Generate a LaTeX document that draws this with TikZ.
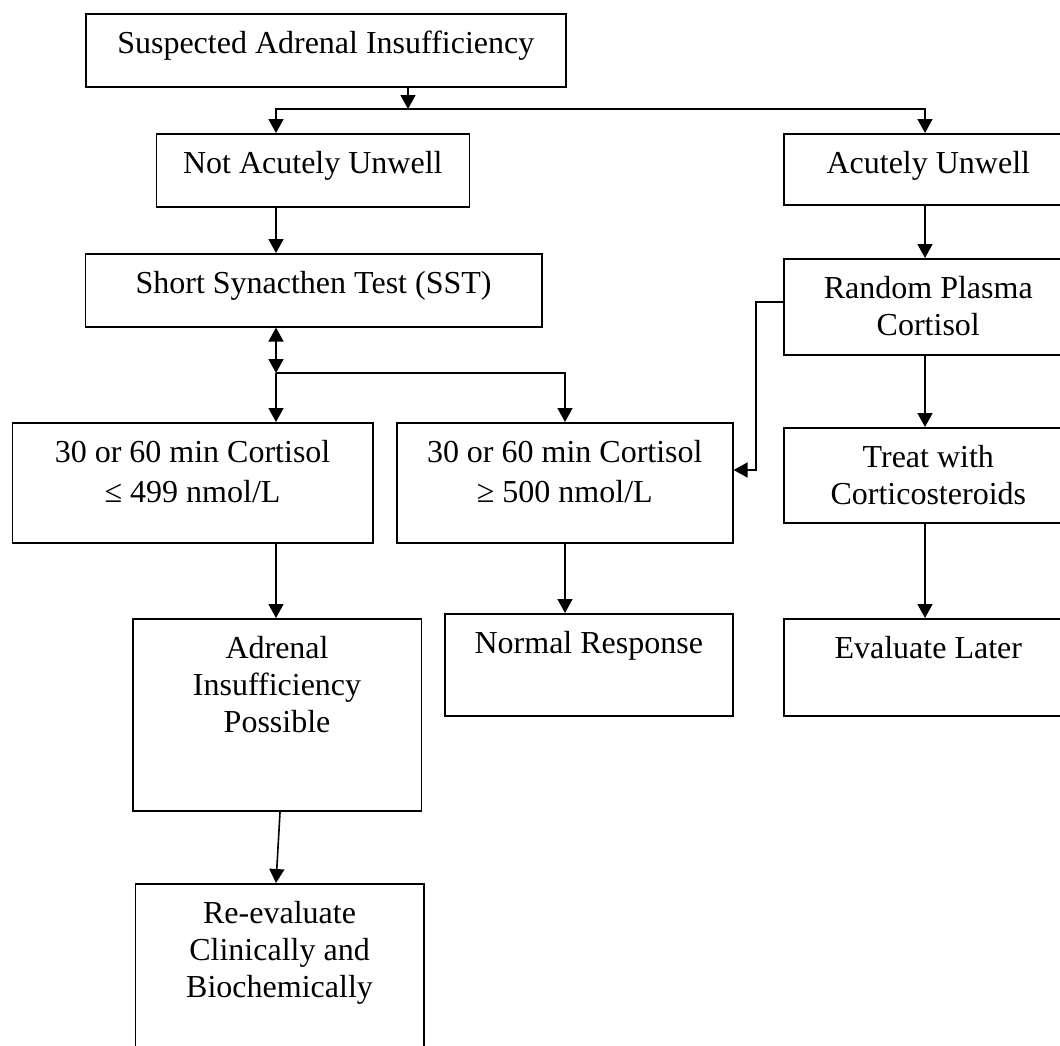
\documentclass[tikz,border=0pt]{standalone}
\usepackage{fontspec}
\setmainfont{Liberation Serif}
\usetikzlibrary{arrows.meta}
\newcommand{\flowtext}[3]{\parbox[t][#2][t]{#1}{\centering\rule{0pt}{40pt}#3}}

\begin{document}
\begin{tikzpicture}[x=1pt, y=-1pt, >={Triangle[length=14pt,width=15pt]}, font=\fontsize{32}{37}\selectfont]
	\def\colL{276} \def\colM{565} \def\colR{925}
	\tikzset{box/.style={draw, line width=1.6pt, inner sep=0pt, anchor=north west},
		arr/.style={->, line width=1.6pt}}
	\useasboundingbox (0,0) rectangle (1060,1045);
	\coordinate (cL) at (\colL,0);
	\coordinate (cM) at (\colM,0);
	\coordinate (cR) at (\colR,0);
	\node[box] (susp) at (85,13) {\flowtext{480pt}{73pt}{Suspected Adrenal Insufficiency}};
	\node[box] (notacute) at (155.5,133) {\flowtext{313pt}{73pt}{Not Acutely Unwell}};
	\node[box] (acute) at (783,133) {\flowtext{289pt}{71pt}{Acutely Unwell}};
	\node[box] (sst) at (84.5,253) {\flowtext{456.5pt}{73pt}{Short Synacthen Test (SST)}};
	\node[box] (random) at (783,258) {\flowtext{289pt}{96pt}{Random Plasma\\Cortisol}};
	\node[box] (low) at (11.5,422) {\flowtext{360.5pt}{120pt}{30 or 60 min Cortisol\\[3pt]≤ 499 nmol/L}};
	\node[box] (high) at (396,422) {\flowtext{336pt}{120pt}{30 or 60 min Cortisol\\[3pt]≥ 500 nmol/L}};
	\node[box] (treat) at (783,427) {\flowtext{289pt}{95pt}{Treat with\\Corticosteroids}};
	\node[box] (possible) at (132,618) {\flowtext{288.5pt}{192pt}{Adrenal\\Insufficiency\\Possible}};
	\node[box] (normal) at (444,613) {\flowtext{288pt}{102pt}{Normal Response}};
	\node[box] (later) at (783,618) {\flowtext{289pt}{97pt}{Evaluate Later}};
	\node[box] (reeval) at (134.5,883) {\flowtext{288.5pt}{172pt}{Re-evaluate\\Clinically and\\Biochemically}};
	\coordinate (top) at (408,109);
	\coordinate (mid) at (\colL,373);
	\coordinate (sideA) at (756,302);
	\coordinate (sideB) at (756,470);
	\draw[arr] (susp.south -| top) -- (top);
	\draw[arr] (top) -| (cL |- notacute.north);
	\draw[arr] (top) -| (cR |- acute.north);
	\draw[arr] (cL |- notacute.south) -- (cL |- sst.north);
	\draw[arr] (cR |- acute.south) -- (cR |- random.north);
	\draw[arr, <->] (cL |- sst.south) -- (mid);
	\draw[arr] (mid) -- (cL |- low.north);
	\draw[arr] (mid) -| (cM |- high.north);
	\draw[arr] (sideA -| random.west) -- (sideA) -- (sideB) -- (sideB -| high.east);
	\draw[arr] (cR |- random.south) -- (cR |- treat.north);
	\draw[arr] (cR |- treat.south) -- (cR |- later.north);
	\draw[arr] (cL |- low.south) -- (cL |- possible.north);
	\draw[arr] (cM |- high.south) -- (cM |- normal.north);
	\draw[arr] ([xshift=3pt]possible.south) -- (cL |- reeval.north);
\end{tikzpicture}
\end{document}
